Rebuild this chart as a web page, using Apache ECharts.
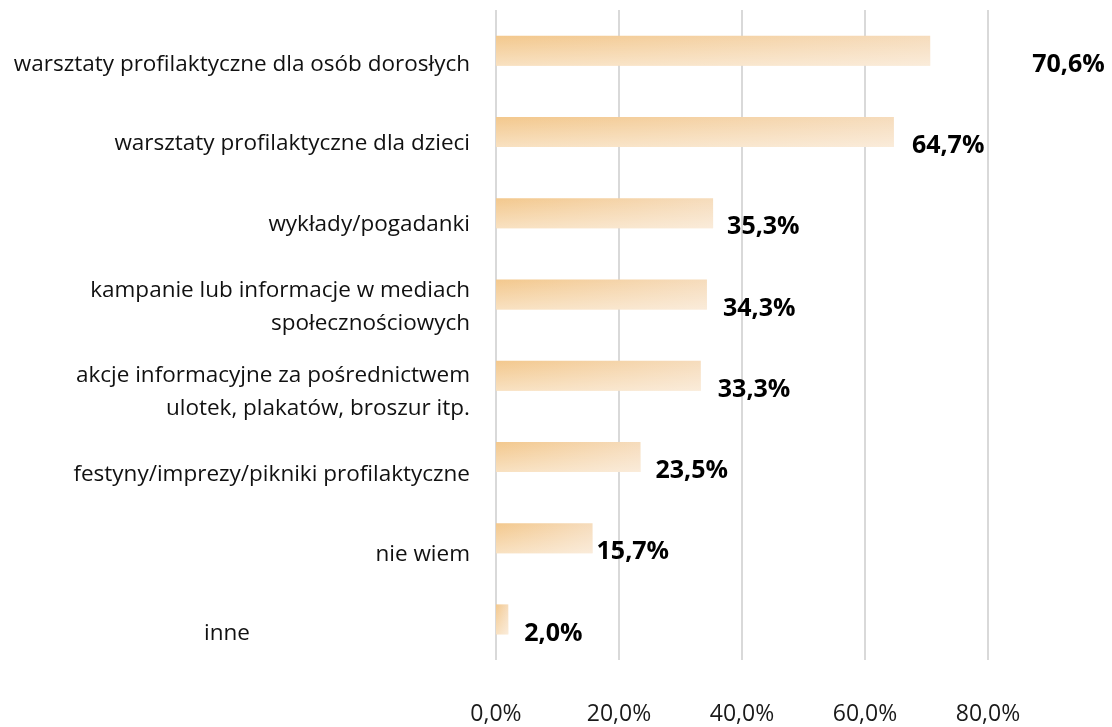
<!DOCTYPE html>
<html>
<head>
<meta charset="utf-8">
<script src="https://cdn.jsdelivr.net/npm/echarts@6/dist/echarts.min.js"></script>
<style>
  html, body { margin: 0; padding: 0; background: #fff; }
  #chart { width: 1112px; height: 727px; }
</style>
</head>
<body>
<div id="chart"></div>
<script>
// Forms of prevention activity and share of answers (%)
const categories = [
  'warsztaty profilaktyczne dla osób dorosłych',
  'warsztaty profilaktyczne dla dzieci',
  'wykłady/pogadanki',
  'kampanie lub informacje w mediach\nspołecznościowych',
  'akcje informacyjne za pośrednictwem\nulotek, plakatów, broszur itp.',
  'festyny/imprezy/pikniki profilaktyczne',
  'nie wiem',
  'inne'
];
const values = [70.6, 64.7, 35.3, 34.3, 33.3, 23.5, 15.7, 2.0];
const axisTicks = [0, 20, 40, 60, 80];

const fmt = v => v.toFixed(1).replace('.', ',') + '%';
const FONT = 'Open Sans';
const TEXT = '#111111';

// per-row label placement tweaks (px)
const catLabelDrop = [27, 23, 23, 26, 32, 36, 32, 28];
const catLabelRightPad = [0, 0, 0, 0, 0, 0, 0, 220];
const valueLabelGap = [102, 18, 14, 16, 17, 15, 4, 16];

// horizontal fade of the bar fill
const barFill = new echarts.graphic.LinearGradient(0, 0, 1, 0, [
  { offset: 0, color: '#F3C88D' },
  { offset: 1, color: '#F6DCBC' }
]);
// vertical lightening laid over the fill
const barSheen = new echarts.graphic.LinearGradient(0, 0, 0, 1, [
  { offset: 0, color: 'rgba(255,255,255,0)' },
  { offset: 1, color: 'rgba(255,255,255,0.45)' }
]);

const rich = {};
categories.forEach((c, i) => {
  rich['r' + i] = {
    fontFamily: FONT, fontSize: 22.5, lineHeight: 33, color: TEXT,
    padding: [catLabelDrop[i], catLabelRightPad[i], 0, 0]
  };
});

const chart = echarts.init(document.getElementById('chart'), null, { renderer: 'canvas' });
chart.setOption({
  animation: false,
  backgroundColor: '#ffffff',
  grid: { left: 496, right: 124, top: 10, bottom: 67, containLabel: false },
  xAxis: {
    type: 'value',
    min: axisTicks[0],
    max: axisTicks[axisTicks.length - 1],
    interval: axisTicks[1] - axisTicks[0],
    axisLine: { show: false },
    axisTick: { show: false },
    splitLine: { show: true, lineStyle: { color: '#d9d9d9', width: 2 } },
    axisLabel: {
      formatter: fmt,
      fontFamily: FONT,
      fontSize: 23,
      color: '#1a1a1a',
      margin: 43
    }
  },
  yAxis: {
    type: 'category',
    inverse: true,
    data: categories,
    axisLine: { show: false },
    axisTick: { show: false },
    axisLabel: {
      margin: 26,
      fontFamily: FONT,
      fontSize: 22.5,
      lineHeight: 33,
      color: TEXT,
      align: 'right',
      formatter: (v, i) => v.split('\n').map(line => '{r' + i + '|' + line + '}').join('\n'),
      rich: rich
    }
  },
  series: [{
    type: 'bar',
    barWidth: 30,
    itemStyle: { color: barFill },
    label: {
      show: true,
      position: 'right',
      offset: [0, 14],
      formatter: p => fmt(p.value),
      fontFamily: FONT,
      fontSize: 25,
      fontWeight: 'bold',
      color: '#000'
    },
    data: values.map((v, i) => ({ value: v, label: { distance: valueLabelGap[i] } }))
  }, {
    type: 'bar',
    barWidth: 30,
    barGap: '-100%',
    silent: true,
    itemStyle: { color: barSheen },
    data: values
  }]
});
</script>
</body>
</html>
